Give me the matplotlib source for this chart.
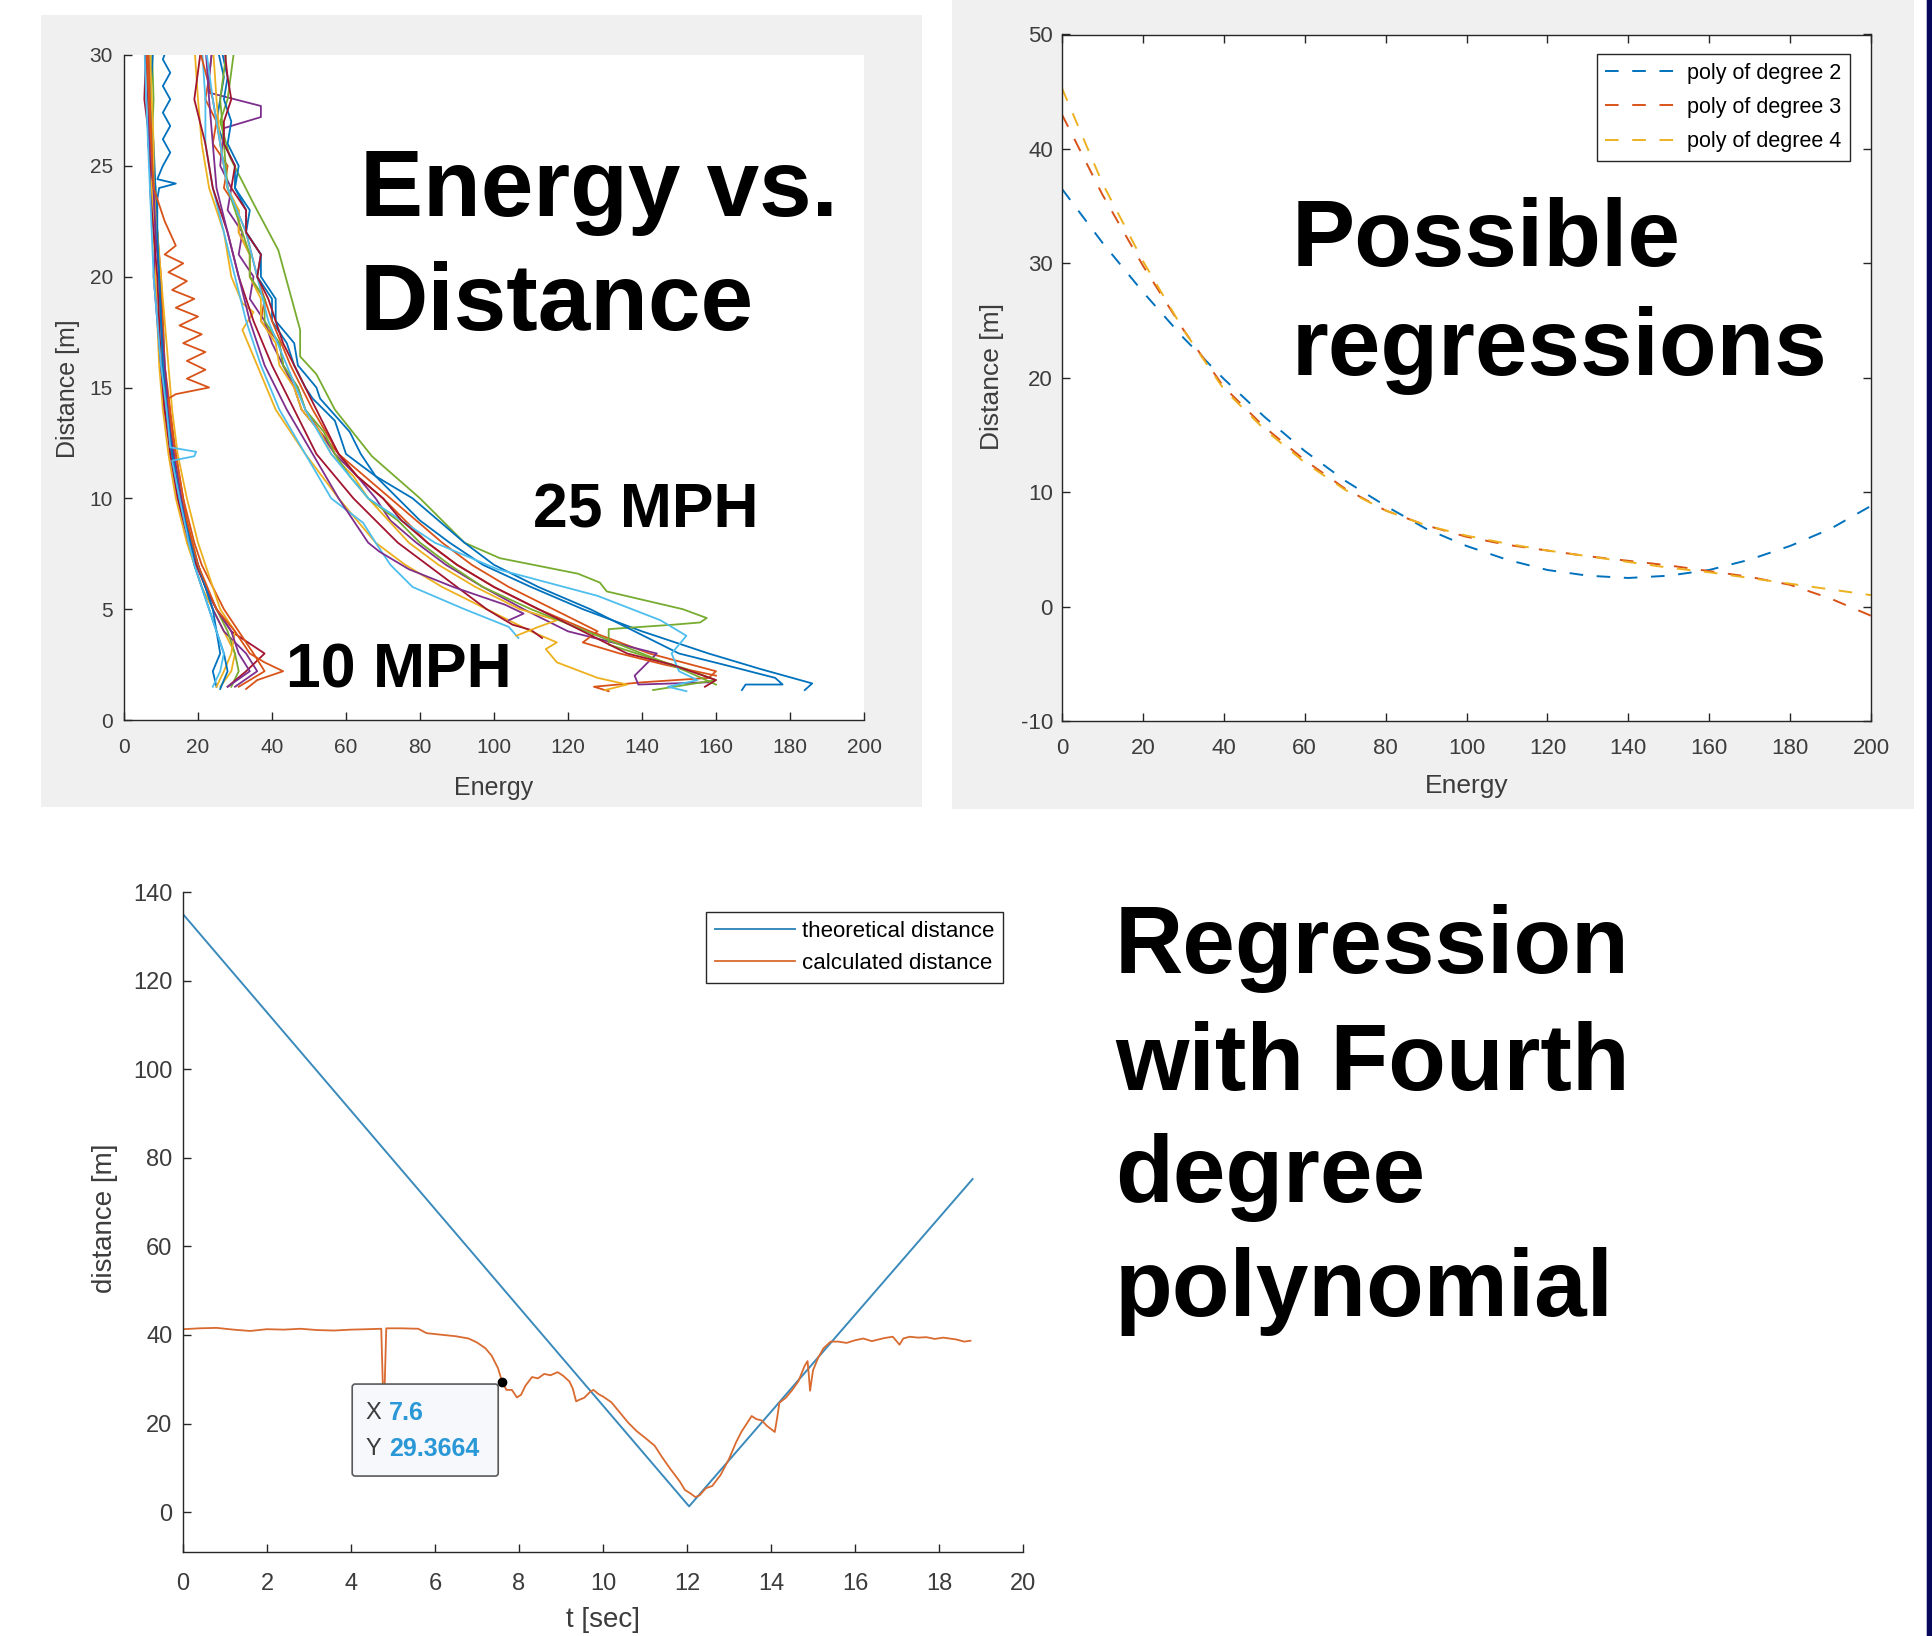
import matplotlib.pyplot as plt
from matplotlib.patches import Rectangle, FancyBboxPatch
from matplotlib.transforms import IdentityTransform

plt.rcParams['font.family'] = ['Liberation Sans', 'DejaVu Sans']
plt.rcParams['axes.unicode_minus'] = False

W, H = 1932, 1636
matlab_colors = ['#0072BD', '#D95319', '#EDB120', '#7E2F8E', '#77AC30', '#4DBEEE', '#A2142F']

# ---- panel 1: energy vs distance, 10 MPH runs (shared distance levels) ----
slow_levels = [30.5, 28, 26, 24, 22, 20, 18, 16, 14, 12, 10, 8, 7, 6, 5, 4, 3, 2.2, 1.5]
slow_energy = [
    [6, 6.5, 7, 7.5, 8, 8.5, 9, 9.5, 10.5, 12, 14, 17, 19, 21, 24, 27, 30, 29, 26],
    [7, 7, 6.5, 8, 8.5, 8, 9, 10, 11, 13, 15, 18, 20, 22, 24, 27, 33, 36, 30],
    [7.5, 8, 7.5, 8.5, 9, 9.5, 10, 10.5, 12, 13.5, 15.5, 18.5, 20, 22, 25, 28, 30, 31, 29],
    [6, 5.5, 7, 7, 8, 9, 9.5, 10, 11, 12.5, 14.5, 17.5, 19.5, 22, 25, 29, 38, 33, 28],
    [8, 7, 8, 8.5, 9, 9.5, 10.5, 11, 12, 13, 15, 18, 19, 21, 23, 25, 26, 24, 25],
    [6.5, 7, 7.5, 8, 9, 10, 10.5, 11, 12.5, 14, 16, 19, 21, 24, 27, 31, 35, 38, 31],
    [7, 7.5, 8, 8, 9, 10, 11, 12, 13, 14.5, 17, 20, 22, 24, 26, 30, 29, 27, 25],
    [6, 6.5, 7, 8, 8.5, 9.5, 10, 11, 12, 13.5, 15.5, 18, 20, 22, 25, 29, 31, 34, 28],
]
slow_colors = [2, 3, 4, 6, 0, 1, 2, 3]

# 10 MPH runs with their own distance samples
wiggle_dist = [30.5, 29.8, 29.2, 28.6, 28, 27.4, 26.8, 26.2, 25.6, 25, 24.4, 24.2, 24.0, 23.5,
               22, 20, 18, 16, 14, 12, 10, 8, 7, 6, 5, 4, 3, 2.2, 1.4]
wiggle_energy = [12, 10.5, 12.5, 10.5, 12.5, 10.5, 12.5, 10.5, 12.5, 10.5, 9, 14, 9.5, 9,
                 9, 9.5, 10, 10.5, 11.5, 13, 15, 18, 20, 22, 24, 25, 27, 28, 26]
zigzag_dist = [30.5, 27, 24, 22.5, 21.4, 21.0, 20.6, 20.2, 19.8, 19.4, 19.0, 18.6, 18.2, 17.8, 17.4,
               17.0, 16.6, 16.2, 15.8, 15.4, 15.0, 14.7, 14.5, 13, 11, 9, 7, 5, 4, 3, 2.6, 2.2, 1.8, 1.4]
zigzag_energy = [6, 7, 8, 11, 14, 11, 16, 12, 17, 13, 19, 14, 20, 15, 21,
                 16, 22, 17, 22, 17, 23, 14, 12, 13, 15, 17, 20, 25, 30, 34, 38, 43, 36, 33]
blip_dist = [30.5, 28, 26, 24, 22, 20, 18, 16, 14, 12.3, 12.1, 11.9, 11.7, 10, 8, 7, 6, 5, 4, 3, 2.2, 1.5]
blip_energy = [5.5, 6, 6.5, 7, 7.5, 8, 9, 10, 11.5, 12.5, 19.5, 19, 13, 15, 17.5, 19, 21, 23, 25, 27, 26, 24]

# 25 MPH runs
fast_dist = [
    [30.5, 29, 28, 27, 26, 25, 24, 23, 22, 21, 20, 19, 18, 17, 16, 15, 14.5, 13.5, 12, 11, 10, 9, 8, 7, 6,
     5, 4, 3, 2.3, 1.65, 1.35],
    [30.5, 29, 28, 27, 26, 25, 24, 23, 22, 21, 20, 19, 18, 17, 16, 15, 14, 13, 12, 11, 10, 9, 8, 7, 6, 5,
     4, 3, 2.2, 1.9, 1.7, 1.5, 1.3],
    [30.5, 28, 26, 24, 22, 20, 18.8, 18.4, 17.6, 16, 14, 12, 10, 8, 7, 6, 5, 4, 3.5, 3.2, 2.6, 1.9, 1.6, 1.35],
    [30.5, 29, 28.3, 27.7, 27.2, 26.7, 25, 24, 23, 22, 21, 20, 19, 18, 17, 16, 15, 14, 13, 12, 11, 10, 9,
     8, 7, 6, 5, 4, 3, 2.0, 1.6, 1.7],
    [30.5, 28, 27, 25.4, 23.3, 21.2, 17.6, 16.4, 15.6, 14, 11.9, 10, 8.0, 7.3, 6.6, 6.2, 5.8, 5.0, 4.6,
     4.4, 4.3, 4.1, 3.4, 2.3, 1.8, 1.35],
    [30.5, 28, 26, 24, 22, 20, 18, 16, 14, 12, 10, 8.9, 8, 7, 6, 5, 4.2, 3.7],
    [30.5, 28, 26, 24, 22, 20, 18, 16, 14, 12, 10, 8, 7, 6, 5, 4.3, 4.06, 3.7],
    [30.5, 29, 28, 27, 26, 25, 24, 23, 22, 21, 20, 19, 18, 17, 16, 15, 14.5, 13, 12, 11, 10, 9, 8, 7, 6,
     5, 4, 3, 2.5, 1.9, 1.6, 1.6, 1.35],
    [30.5, 28, 26, 24, 22, 20, 18, 16, 14, 12, 10, 8, 7, 6, 5, 4, 3.5, 3, 2.5, 2],
    [30.5, 28, 26, 24, 23, 22, 21, 20, 19, 18, 17, 16, 15, 14, 13, 12, 11, 10, 8, 7, 6, 5, 4.5, 4.2, 3.8],
    [30.5, 28, 26, 24, 22, 20, 18, 16, 14, 12, 10, 8, 7.6, 6.8, 6, 5.2, 4.8, 4.5],
    [30.5, 28, 26, 24, 22, 21, 20, 19, 18, 17, 16, 15, 14, 13, 12, 11, 10, 9, 8, 7, 6, 5, 4, 3, 2.2, 1.6],
    [30.5, 28, 26, 24, 22, 20, 18, 16, 14, 12, 10, 8, 6.8, 5.6, 4.5, 3.8, 3.0, 2.2, 1.8, 1.5, 1.3],
    [30.5, 29, 28, 27, 26, 25, 24, 23, 22, 21, 20, 19, 18, 17, 16, 15, 14, 13, 12, 11, 10, 9, 8, 7, 6, 5,
     4, 3, 2.5, 1.8, 1.5],
]
fast_energy = [
    [25, 27, 26, 25, 27, 30, 30, 33, 33, 37, 36, 40, 40, 44, 46, 49, 51, 57, 60, 68, 74, 80, 88, 97, 110,
     124, 140, 158, 172, 186, 184],
    [24, 23, 22, 25, 24, 28, 27, 31, 31, 34, 34, 38, 37, 42, 43, 47, 49, 53, 58, 63, 70, 76, 82, 90, 100,
     112, 126, 142, 160, 158, 140, 127, 131],
    [19, 20, 21, 23, 27, 29, 32, 35, 32, 36, 41, 49, 58, 68, 76, 86, 98, 110, 117, 114, 117, 128, 136, 130],
    [24, 23, 23, 37, 37, 27, 26, 29, 28, 32, 31, 35, 34, 38, 40, 43, 46, 48, 53, 57, 63, 68, 72, 79, 87,
     97, 108, 120, 144, 138, 139, 158],
    [30, 28, 26, 28.6, 35, 41.7, 47.6, 47.6, 52, 57, 67, 80, 92, 101.6, 122.7, 128.6, 130.5, 151, 157.5,
     155.7, 148.5, 131, 131, 152, 160, 143],
    [21, 22, 22, 24, 27, 30, 33, 37, 42, 49, 56, 64.6, 68, 72, 78, 92, 104, 106.6],
    [21, 19, 22, 24, 28, 31, 35, 40, 46, 52, 62, 74, 82, 90, 98, 105, 110, 113],
    [26, 28, 27, 29, 28, 31, 30, 34, 33, 37, 37, 41, 41, 46, 47, 52, 53, 61, 64, 68, 78, 85, 92, 100, 112,
     126, 138, 150, 162, 176, 178, 168, 167],
    [20, 24, 26, 28, 33, 36, 40, 45, 51, 58, 72, 86, 94, 104, 116, 128, 124, 134, 146, 160],
    [24, 25, 26, 28, 31, 31, 34, 34, 37, 37, 41, 42, 46, 48, 53, 56, 62, 66, 77, 85, 95, 107, 117, 112, 106],
    [22, 23, 24, 25, 28, 31, 34, 38, 44, 51, 58, 66, 69, 77, 89, 103, 108, 104],
    [28, 26, 27, 28, 32, 34, 34, 38, 38, 42, 43, 47, 49, 54, 57, 61, 66, 74, 80, 88, 97, 110, 125, 140,
     152, 160],
    [22, 24, 26, 28, 33, 36, 39, 44, 49, 56, 66, 84, 101, 128, 145, 152, 148, 150, 155, 147, 152],
    [27, 28, 29, 27, 27, 30, 29, 33, 33, 37, 36, 39, 41, 43, 46, 49, 52, 55, 58, 63, 70, 75, 82, 90, 100,
     112, 124, 136, 148, 160, 157],
]

# ---- panel 2: polynomial fits ----
poly_energy = [0, 10, 20, 30, 40, 50, 60, 70, 80, 90, 100, 110, 120, 130, 140, 150, 160, 170, 180, 190, 200]
poly_deg2 = [36.5, 31.8, 27.5, 23.5, 19.9, 16.6, 13.6, 11.0, 8.8, 6.8, 5.3, 4.1, 3.2, 2.7, 2.5, 2.7,
             3.2, 4.1, 5.3, 6.8, 8.8]
poly_deg3 = [43.0, 36.0, 29.8, 24.2, 19.2, 15.7, 12.8, 10.3, 8.4, 7.1, 6.1, 5.4, 4.9, 4.4, 4.0, 3.6,
             3.1, 2.6, 1.9, 0.7, -0.8]
poly_deg4 = [45.3, 37.0, 30.2, 24.2, 19.0, 15.5, 12.6, 10.2, 8.4, 7.1, 6.2, 5.5, 4.9, 4.4, 3.9, 3.4,
             3.0, 2.5, 2.0, 1.5, 1.0]
poly_labels = ['poly of degree 2', 'poly of degree 3', 'poly of degree 4']

# ---- panel 3: theoretical vs calculated distance ----
theo_t = [0, 12.05, 18.8]
theo_d = [135, 1.3, 75.2]
calc_t = [0, 0.4, 0.8, 1.2, 1.6, 2.0, 2.4, 2.8, 3.2, 3.6, 4.0, 4.4, 4.72, 4.76, 4.8, 4.84, 5.2, 5.6, 5.8, 6.1,
          6.5, 6.8, 7.0, 7.2, 7.35, 7.5, 7.6, 7.7, 7.83, 7.95, 8.05, 8.15, 8.31, 8.45, 8.6, 8.75, 8.92, 9.05,
          9.2, 9.28, 9.36, 9.42, 9.55, 9.7, 9.77, 9.9, 10.0, 10.2, 10.4, 10.6, 10.8, 11.0, 11.23, 11.4, 11.6,
          11.83, 11.95, 12.07, 12.2, 12.3, 12.45, 12.6, 12.8, 13.0, 13.17, 13.3, 13.54, 13.65, 13.78, 13.9,
          14.09, 14.15, 14.2, 14.35, 14.5, 14.65, 14.8, 14.87, 14.9, 14.93, 15.0, 15.12, 15.25, 15.42, 15.6,
          15.8, 16.0, 16.2, 16.4, 16.7, 16.9, 17.06, 17.15, 17.3, 17.5, 17.7, 17.9, 18.1, 18.4, 18.6, 18.75]
calc_d = [41.3, 41.5, 41.6, 41.2, 40.9, 41.3, 41.2, 41.4, 41.1, 41.0, 41.2, 41.3, 41.4, 28.0, 28.0, 41.5,
          41.5, 41.4, 40.4, 40.1, 39.7, 39.2, 38.3, 37.0, 35.3, 32.5, 29.4, 27.6, 27.6, 25.9, 26.5, 28.5,
          30.5, 30.2, 31.2, 30.9, 31.6, 30.8, 29.5, 27.9, 25.0, 25.3, 25.8, 27.2, 27.6, 26.6, 26.1, 24.8,
          22.5, 20.2, 18.3, 16.8, 15.0, 12.5, 9.8, 6.9, 5.0, 4.3, 3.4, 3.8, 5.4, 5.9, 8.4, 12.0, 15.8, 18.2,
          21.7, 21.0, 20.7, 19.5, 18.1, 21.5, 24.7, 25.8, 27.5, 29.5, 33.0, 34.1, 31.0, 27.4, 32.0, 34.8,
          37.0, 38.5, 38.5, 38.2, 38.8, 39.2, 38.6, 39.3, 39.6, 37.8, 39.2, 39.6, 39.4, 39.5, 39.1, 39.4,
          39.0, 38.5, 38.7]
tip_t, tip_d = 7.6, 29.3664


def frac_box(x0, y0, x1, y1):
    # pixel box (top-left origin) -> figure fraction rect
    return [x0 / W, 1 - y1 / H, (x1 - x0) / W, (y1 - y0) / H]


def fxy(x, y):
    return x / W, 1 - y / H


def style_axes(ax, size, xpad, ypad, box):
    ax.spines['top'].set_visible(box)
    ax.spines['right'].set_visible(box)
    for s in ax.spines.values():
        s.set_color('#262626')
        s.set_linewidth(1.0)
    ax.tick_params(direction='in', length=6, width=1.0, color='#262626', labelcolor='#3c3c3c',
                   labelsize=size, top=box, right=box)
    ax.tick_params(axis='x', pad=xpad)
    ax.tick_params(axis='y', pad=ypad)


fig = plt.figure(figsize=(W / 100, H / 100), dpi=100)
fig.patch.set_facecolor('white')

for x0, y0, x1, y1 in [(41, 15, 922, 807), (952, 0, 1914, 809)]:
    fig.patches.append(Rectangle(fxy(x0, y1), (x1 - x0) / W, (y1 - y0) / H, transform=fig.transFigure,
                                 facecolor='#f0f0f0', edgecolor='none', zorder=-1))
fig.patches.append(Rectangle(fxy(1926, H), 1 / W, 1, transform=fig.transFigure,
                             facecolor='#b9bad0', edgecolor='none', zorder=5))
fig.patches.append(Rectangle(fxy(1927, H), 5 / W, 1, transform=fig.transFigure,
                             facecolor='#07075c', edgecolor='none', zorder=5))

# ---------------- panel 1 ----------------
ax1 = fig.add_axes(frac_box(124, 55, 864, 720))
for i, e in enumerate(slow_energy):
    ax1.plot(e, slow_levels, color=matlab_colors[slow_colors[i]], lw=1.3)
ax1.plot(wiggle_energy, wiggle_dist, color=matlab_colors[0], lw=1.3)
ax1.plot(zigzag_energy, zigzag_dist, color=matlab_colors[1], lw=1.3)
ax1.plot(blip_energy, blip_dist, color=matlab_colors[5], lw=1.3)
for i, (e, d) in enumerate(zip(fast_energy, fast_dist)):
    ax1.plot(e, d, color=matlab_colors[i % 7], lw=1.3)
ax1.set_xlim(0, 200)
ax1.set_ylim(0, 30)
ax1.set_xticks(range(0, 201, 20))
ax1.set_yticks(range(0, 31, 5))
style_axes(ax1, 15, 13, 8, False)
fig.text(*fxy(494, 788), 'Energy', ha='center', va='center', fontsize=18, color='#3c3c3c')
fig.text(*fxy(68, 389), 'Distance [m]', ha='center', va='center', rotation=90, fontsize=18, color='#3c3c3c')

# ---------------- panel 2 ----------------
ax2 = fig.add_axes(frac_box(1062, 34.5, 1871, 721))
for vals, c, lab in zip([poly_deg2, poly_deg3, poly_deg4], matlab_colors[:3], poly_labels):
    ax2.plot(poly_energy, vals, color=c, lw=1.4, linestyle=(0, (7, 7)), label=lab)
ax2.set_xlim(0, 200)
ax2.set_ylim(-10, 50)
ax2.set_xticks(range(0, 201, 20))
ax2.set_yticks(range(-10, 51, 10))
style_axes(ax2, 16, 12, 6.5, True)
ax2.legend(loc='upper right', bbox_to_anchor=fxy(1850, 54), bbox_transform=fig.transFigure,
           borderaxespad=0, fancybox=False, framealpha=1, edgecolor='#262626', fontsize=15.5,
           handlelength=3.5, handletextpad=0.3, labelspacing=0.62, borderpad=0.4)
ax2.get_legend().get_frame().set_linewidth(1.0)
fig.text(*fxy(1467, 786), 'Energy', ha='center', va='center', fontsize=19, color='#3c3c3c')
fig.text(*fxy(992, 377), 'Distance [m]', ha='center', va='center', rotation=90, fontsize=19, color='#3c3c3c')

# ---------------- panel 3 ----------------
ax3 = fig.add_axes(frac_box(183, 892, 1023, 1552))
ax3.plot(theo_t, theo_d, color='#3a8abb', lw=1.4, label='theoretical distance')
ax3.plot(calc_t, calc_d, color='#d96a30', lw=1.3, label='calculated distance')
ax3.set_xlim(0, 20)
ax3.set_ylim(-9, 140)
ax3.set_xticks(range(0, 21, 2))
ax3.set_yticks(range(0, 141, 20))
style_axes(ax3, 17, 15, 7.5, False)
ax3.legend(loc='upper right', bbox_to_anchor=fxy(1003, 912), bbox_transform=fig.transFigure,
           borderaxespad=0, fancybox=False, framealpha=1, edgecolor='#262626', fontsize=16,
           handlelength=3.6, handletextpad=0.3, labelspacing=0.5, borderpad=0.4)
ax3.get_legend().get_frame().set_linewidth(1.0)
fig.text(*fxy(603, 1620), 't [sec]', ha='center', va='center', fontsize=20, color='#3c3c3c')
fig.text(*fxy(105, 1218), 'distance [m]', ha='center', va='center', rotation=90, fontsize=20, color='#3c3c3c')

# data tip
ax3.plot([tip_t], [tip_d], 'o', color='black', ms=6, zorder=6)
xd, yd = ax3.transData.transform((tip_t, tip_d))
ident = IdentityTransform()
fig.patches.append(FancyBboxPatch((xd - 150, yd - 94), 146, 92, boxstyle='round,pad=0,rounding_size=3',
                                  transform=ident, facecolor='#f7f8fb', edgecolor='#5a5a5a', lw=1.2, zorder=4))
fig.text(xd - 137, yd - 31, 'X', transform=ident, ha='left', va='center', fontsize=17, color='#3c3c3c', zorder=6)
fig.text(xd - 113, yd - 31, f'{tip_t:g}', transform=ident, ha='left', va='center', fontsize=18,
         color='#2a98d6', fontweight='bold', zorder=6)
fig.text(xd - 137, yd - 67, 'Y', transform=ident, ha='left', va='center', fontsize=17, color='#3c3c3c', zorder=6)
fig.text(xd - 113, yd - 67, f'{tip_d:.4f}', transform=ident, ha='left', va='center', fontsize=18,
         color='#2a98d6', fontweight='bold', zorder=6)

# ---------------- slide headings ----------------
big = dict(fontsize=68, fontweight='bold', color='black', ha='left', va='baseline')
fig.text(*fxy(360, 216), 'Energy vs.', **big)
fig.text(*fxy(360, 330), 'Distance', **big)
fig.text(*fxy(1292, 266), 'Possible', **big)
fig.text(*fxy(1292, 375), 'regressions', **big)
fig.text(*fxy(1115, 973), 'Regression', **big)
fig.text(*fxy(1115, 1090), 'with Fourth', **big)
fig.text(*fxy(1115, 1202), 'degree', **big)
fig.text(*fxy(1115, 1316), 'polynomial', **big)
mph = dict(fontsize=45, fontweight='bold', color='black', ha='left', va='baseline')
fig.text(*fxy(533, 528), '25 MPH', **mph)
fig.text(*fxy(286, 688), '10 MPH', **mph)

fig.savefig('out.png', dpi=100)
